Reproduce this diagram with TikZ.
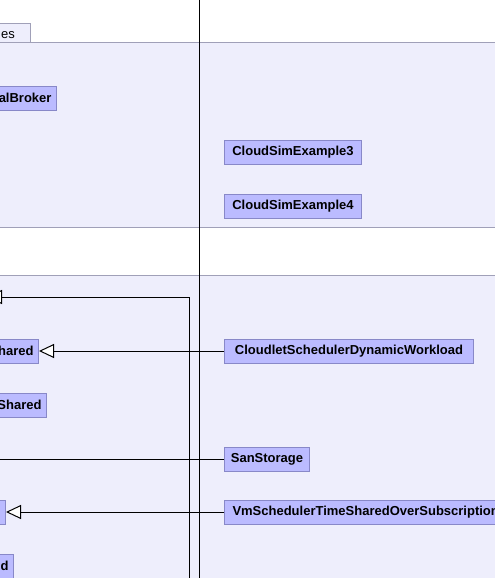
\documentclass[tikz,border=0pt]{standalone}
\usepackage{fontspec}
\setmainfont{Liberation Sans}
\usepackage{tikz}
\usetikzlibrary{arrows.meta,positioning}
\tikzset{
  inheritarrow/.style={-{Triangle[length=15pt,width=14pt,fill=white]}, line width=1pt, draw=black},
  assocline/.style={line width=1pt, draw=black},
  lanebox/.style={fill=LaneFill, draw=LaneEdge, line width=1pt}
}
\definecolor{LaneFill}{HTML}{EEEEFC}
\definecolor{LaneEdge}{HTML}{A0A0B8}
\definecolor{ClassFill}{HTML}{BBBBFF}
\definecolor{ClassEdge}{HTML}{8888C8}

\begin{document}
\begin{tikzpicture}[
  x=1pt, y=-1pt,
  font=\fontsize{13}{15}\selectfont,
  cell/.style={draw=ClassEdge, fill=ClassFill, line width=1pt, font=\bfseries\fontsize{13}{15}\selectfont,
    minimum height=24pt, inner xsep=5pt, inner ysep=0pt}
]
\useasboundingbox (0,0) rectangle (495,578);
\clip (0,0) rectangle (495,578);
\fill[white] (0,0) rectangle (495,578);

% lanes and tab
\draw[lanebox] (-40,24) rectangle (30,43);
\node[anchor=base west, inner sep=0pt] at (1,38) (tab) {es};
\draw[lanebox] (-10,43) rectangle (510,227);
\draw[lanebox] (-10,275) rectangle (510,600);

% left column (cut by the page edge)
\node[cell, anchor=east] at (57,98) (broker) {alBroker};
\node[cell, anchor=east] at (39,351) (cshared) {hared};
\node[cell, anchor=east] at (47,405) (sshared) {Shared};
\node[cell, minimum width=60pt, anchor=east] at (6,512) (vmshared) {};
\node[cell, anchor=east] at (14,566) (lastcls) {d};

% right column
\node[cell, minimum width=137pt, inner xsep=0pt, anchor=west] at (224,152) (ex3) {CloudSimExample3};
\node[cell, minimum width=137pt, inner xsep=0pt, anchor=west] at (224,206) (ex4) {CloudSimExample4};
\node[cell, minimum width=249pt, inner xsep=0pt, anchor=west] at (224,351) (dynwork) {CloudletSchedulerDynamicWorkload};
\node[cell, minimum width=85pt, inner xsep=0pt, anchor=west] at (224,459) (san) {SanStorage};
\node[cell, inner xsep=8pt, anchor=west] at (224,512) (vmover) {VmSchedulerTimeSharedOverSubscription};

% ends that leave the page
\coordinate (storeend) at (-13,297);
\coordinate (lowstart) at (189,600);
\coordinate (sanend) at (-20,459);

% lane divider
\draw[line width=1pt] (199,-5) -- (199,600);

% generalisations
\draw[inheritarrow] (dynwork.west) -- (cshared.east);
\draw[inheritarrow] (vmover.west) -- (vmshared.east);
\draw[inheritarrow] (lowstart) |- (storeend);
\draw[assocline] (san.west) -- (sanend);
\end{tikzpicture}
\end{document}
